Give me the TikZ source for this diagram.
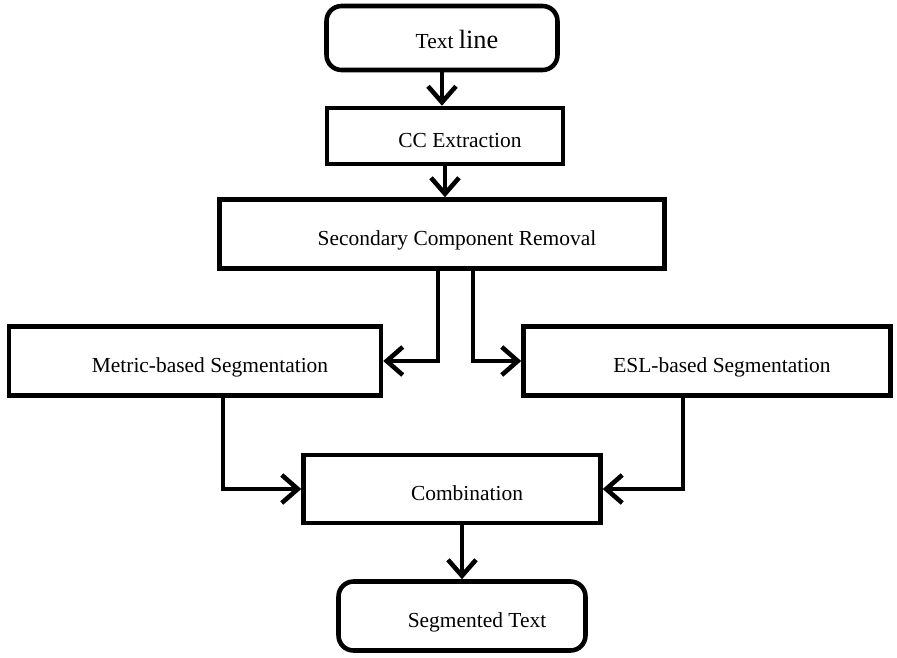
\documentclass[tikz,border=0pt]{standalone}
\usepackage{fontspec}
\setmainfont{Liberation Serif}
\usepackage{tikz}
\usetikzlibrary{arrows.meta,positioning}
\newcommand{\Pad}[1]{\hspace*{6mm}#1}

\begin{document}
\begin{tikzpicture}[->,>={Straight Barb[length=3.2mm,width=5.6mm]}, line width=2.6pt,
			line cap=round, x=0.02cm, y=-0.02cm, font=\fontsize{12.2}{14}\selectfont]
			\tikzstyle{box}=[draw=black,text=black,inner sep=0pt,
			minimum height=1.38cm,text height=4.6mm,text depth=0pt]
			\tikzstyle{term}=[box,rounded corners=0.3cm]
			\useasboundingbox (0,0) rectangle (897,657);

			\begin{scope}
				\node[term,minimum width=4.62cm,minimum height=1.28cm,text height=4mm] (line) at (442,38)
				{\Pad{Text {\fontsize{15}{17}\selectfont line}}}; \node[box,minimum
				width=4.72cm,minimum height=1.12cm] (cc) at (445,136) {\Pad{CC
				Extraction}}; \node[box,minimum width=8.9cm] (rem) at (442,234)
				{\Pad{Secondary Component Removal}}; \node[box,minimum width=7.44cm]
				(metric) at (195,361) {\Pad{Metric-based Segmentation}};
				\node[box,minimum width=7.34cm] (esl) at (707,361) {\Pad{ESL-based
				Segmentation}}; \node[box,minimum width=5.94cm,minimum height=1.36cm]
				(comb) at (452,489) {\Pad{Combination}}; \node[term,minimum
				width=4.94cm] (seg) at (462,616) {\Pad{Segmented Text}};

				\draw (line.south) -- (line.south |- cc.north); \draw (cc.south) --
				(cc.south |- rem.north); \draw ([xshift=-0.08cm]rem.south) |-
				(metric.east); \draw ([xshift=0.62cm]rem.south) |- (esl.west); \draw
				([xshift=0.56cm]metric.south) |- (comb.west); \draw
				([xshift=-0.48cm]esl.south) |- (comb.east); \draw (comb.south -|
				seg.north) -- (seg.north);
			\end{scope}
		\end{tikzpicture}
\end{document}
